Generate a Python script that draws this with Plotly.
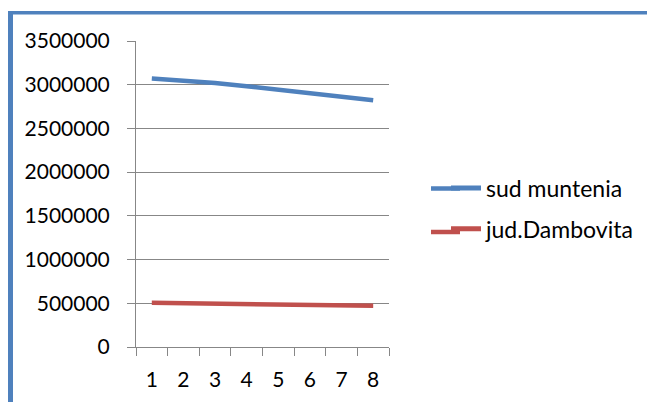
import plotly.graph_objects as go

categories = ["1", "2", "3", "4", "5", "6", "7", "8"]
sud_muntenia = [3070000, 3048000, 3020000, 2982000, 2942000, 2906000, 2870000, 2823000]
jud_dambovita = [506000, 501000, 497000, 491000, 487000, 483000, 478000, 472000]
y_ticks = [0, 500000, 1000000, 1500000, 2000000, 2500000, 3000000, 3500000]

W, H = 647, 402
L, R, T, B = 136, 258, 41, 55
PW, PH = W - L - R, H - T - B

def px(x):
    return (x - L) / PW

def py(y):
    return (H - B - y) / PH

FONT = "Lato"
GRID = "#878787"
FRAME = "#4F81BD"
BLUE = "#4F81BD"
RED = "#C0504D"

fig = go.Figure()
fig.add_trace(go.Scatter(x=categories, y=sud_muntenia, mode="lines", name="sud muntenia",
                         legendgroup="a", line=dict(color=BLUE, width=4.5)))
fig.add_trace(go.Scatter(x=categories, y=jud_dambovita, mode="lines", name="jud.Dambovita",
                         legendgroup="b", line=dict(color=RED, width=4.5)))

fig.update_layout(
    width=W, height=H,
    margin=dict(l=L, r=R, t=T, b=B, autoexpand=False),
    paper_bgcolor="white", plot_bgcolor="white",
    font=dict(family=FONT, size=20, color="#000000"),
    showlegend=True,
    legend=dict(x=px(446), y=py(166.5), xanchor="left", yanchor="top",
                font=dict(family=FONT, size=23, color="#000000"),
                tracegroupgap=8, itemsizing="constant", bgcolor="rgba(0,0,0,0)"),
    xaxis=dict(type="category", range=[-0.5, 7.5], showgrid=False,
               showline=True, linecolor=GRID, linewidth=1,
               ticks="outside", tickson="boundaries", ticklen=8, tickcolor=GRID,
               ticklabelstandoff=14,
               tickfont=dict(family=FONT, size=21), zeroline=False, fixedrange=True),
    yaxis=dict(range=[0, 3500000], tickvals=y_ticks, ticktext=[str(v) for v in y_ticks],
               showgrid=True, gridcolor=GRID, gridwidth=1,
               showline=True, linecolor=GRID, linewidth=1,
               ticks="outside", ticklen=8, tickcolor=GRID,
               ticklabelstandoff=13,
               tickfont=dict(family=FONT, size=21), zeroline=False, fixedrange=True),
    shapes=[
        dict(type="rect", xref="paper", yref="paper", x0=px(8), x1=px(720), y0=py(14.5), y1=py(11),
             fillcolor=FRAME, line=dict(width=0), layer="above"),
        dict(type="rect", xref="paper", yref="paper", x0=px(8), x1=px(13), y0=py(430), y1=py(11),
             fillcolor=FRAME, line=dict(width=0), layer="above"),
        # extend legend swatches to the reference's longer sample length
        dict(type="line", xref="paper", yref="paper", x0=px(431), x1=px(460), y0=py(188.5), y1=py(188.5),
             line=dict(color=BLUE, width=4.5), layer="above"),
        dict(type="line", xref="paper", yref="paper", x0=px(431), x1=px(460), y0=py(232), y1=py(232),
             line=dict(color=RED, width=4.5), layer="above"),
    ],
)

fig.write_html("out.html", config={"displayModeBar": False},
               post_script="document.body.style.margin='0';document.body.style.overflow='hidden';")
